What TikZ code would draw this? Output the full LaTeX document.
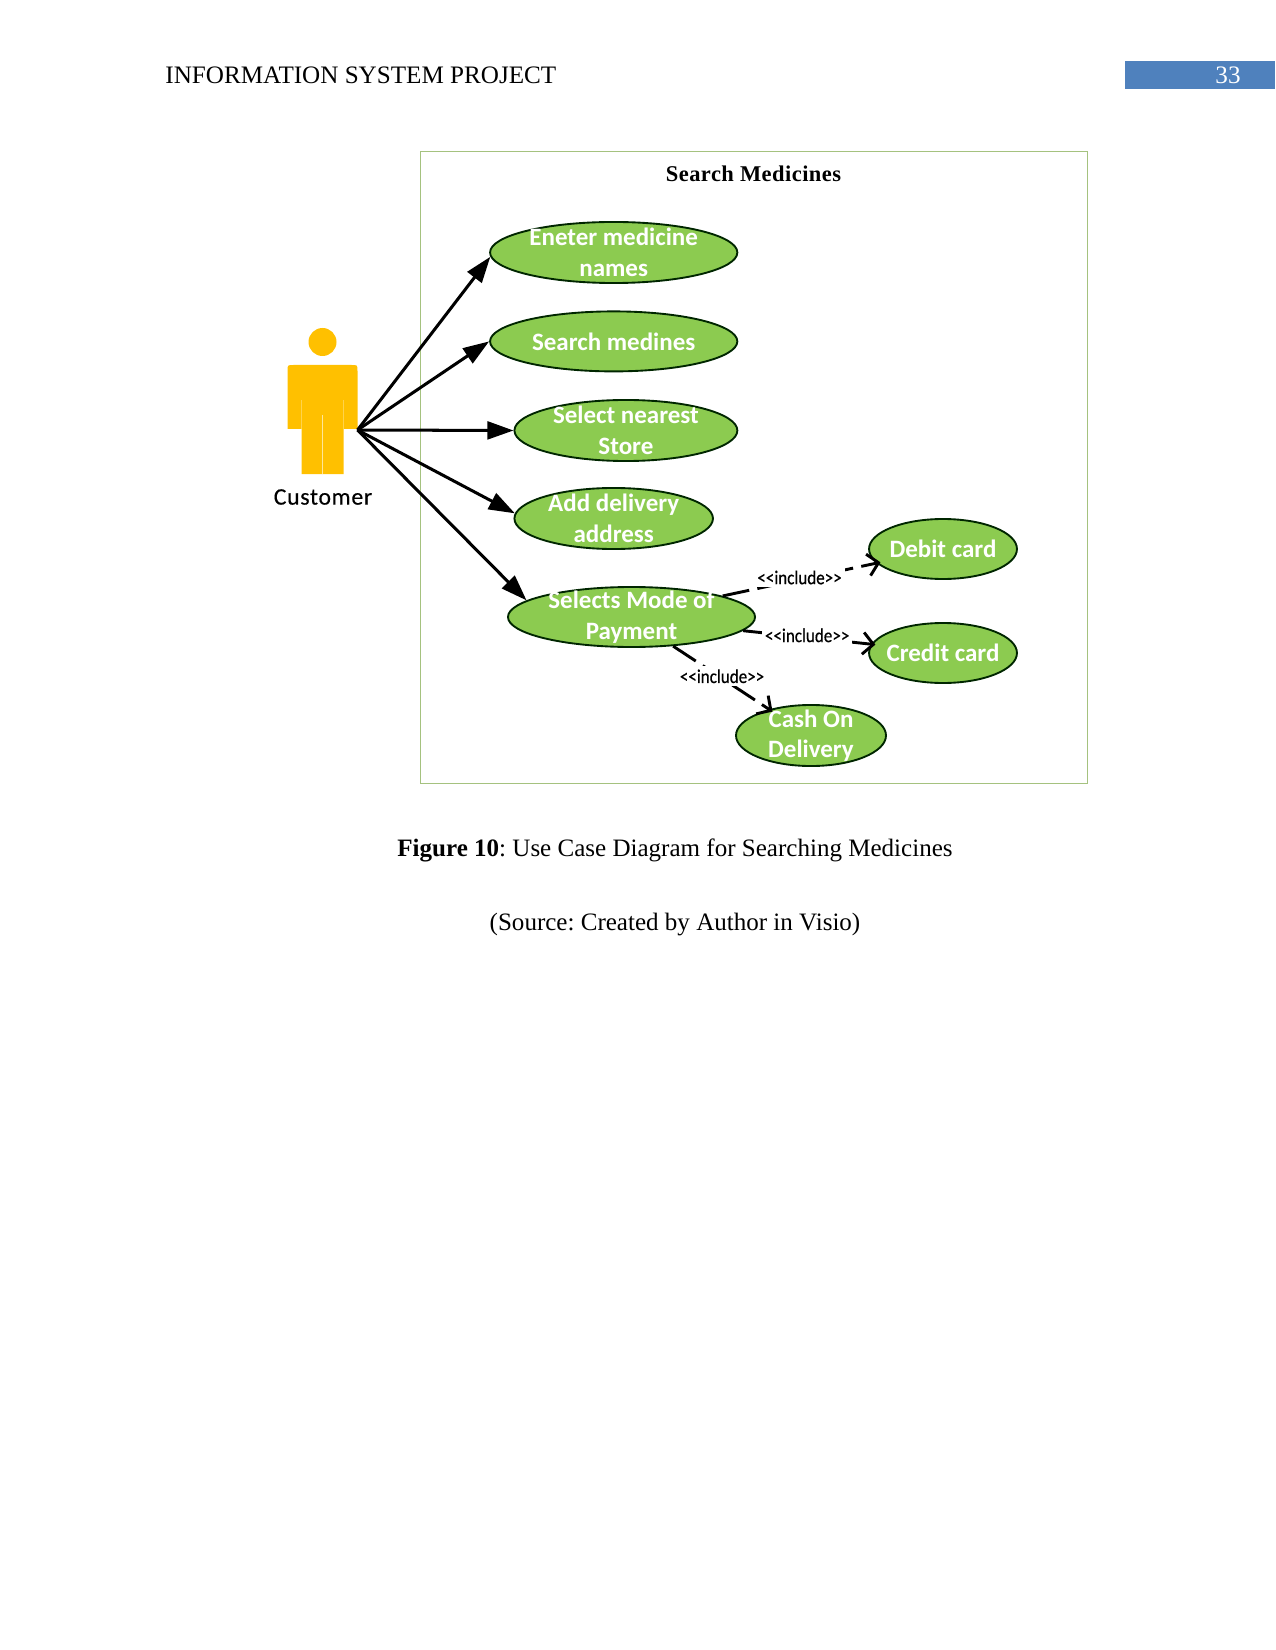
\documentclass[tikz,border=0pt]{standalone}
\usepackage{fontspec}
\setmainfont{Liberation Serif}
\newfontfamily\ucfont{Carlito}
\newfontfamily\actorfont[LetterSpace=3,FakeBold=0.3]{Carlito}
\newfontfamily\inclfont[FakeBold=0.5]{Carlito}
\newfontfamily\titlefont[LetterSpace=2]{Liberation Serif}
\usetikzlibrary{shapes.geometric,arrows.meta}
\definecolor{casefill}{HTML}{8CCB50}
\definecolor{frameline}{HTML}{A5C27F}
\definecolor{pageblue}{HTML}{4F81BD}
\definecolor{actorgold}{HTML}{FFC000}
\tikzset{
  usecase/.style={ellipse,draw=black!85!green,line width=0.9pt,fill=casefill,text=white,
    inner sep=-14pt,align=center,font=\ucfont\bfseries\fontsize{12}{14.6}\selectfont},
  assoc/.style={line width=1.45pt,-{Triangle[length=12.5pt,width=8.5pt]}},
  incl/.style={line width=1.4pt,dash pattern=on 13pt off 4pt,shorten >=-2pt,
    -{Straight Barb[length=5pt,width=10.5pt,line width=1.4pt]}},
  incllabel/.style={fill=white,inner sep=1.5pt,yshift=1pt,font=\inclfont\fontsize{9.4}{11}\selectfont},
  pagetext/.style={inner sep=0pt,font=\fontsize{12.06}{14}\selectfont},
  captext/.style={inner sep=0pt,font=\fontsize{12.02}{14}\selectfont}
}
\newcommand{\inclword}{\scalebox{0.87}[1]{{<}{<}include{>}{>}}}
\frenchspacing
\begin{document}
\begin{tikzpicture}[x=0.48pt,y=-0.48pt]
\useasboundingbox (0,0) rectangle (1275,1650);

% running head
\node[pagetext,anchor=base west] (head) at (165,84) {INFORMATION SYSTEM PROJECT};
\fill[pageblue] (1125,61) rectangle (1275,89);
\node[pagetext,text=white,anchor=base] (pageno) at (1228,84) {33};

% system boundary
\draw[frameline,line width=0.7pt] (420.5,151.5) rectangle (1087.5,783.7);
\node[inner sep=0pt,font=\titlefont\bfseries\fontsize{10.8}{12}\selectfont] (title) at (753.5,173.5) {Search Medicines};

% actor figure
\fill[actorgold] (322.5,342) circle (14);
\fill[actorgold] (287.5,429) -- (287.5,371) .. controls (287.5,365) and (287.5,365) .. (293.5,365)
  -- (351.5,365) .. controls (357.5,365) and (357.5,365) .. (357.5,371) -- (357.5,429) -- (343.5,429)
  -- (343.5,474) -- (301.5,474) -- (301.5,429) -- cycle;
\draw[white!60!actorgold,line width=0.4pt] (322.5,415) -- (322.5,474);
\draw[white!30!actorgold,line width=0.3pt] (301.5,400) -- (301.5,429) (343.5,400) -- (343.5,429);
\coordinate (hand) at (357.5,430);
\node[inner sep=0pt,font=\actorfont\fontsize{11.4}{13}\selectfont] (customer) at (323,497) {Customer};

% use cases
\node[usecase,minimum width=118.7pt,minimum height=29.3pt] (enter) at (613.7,252.5) {Eneter medicine\\names};
\node[usecase,minimum width=118.7pt,minimum height=28.8pt] (search) at (613.7,341.4) {Search medines};
\node[usecase,minimum width=107pt,minimum height=29.3pt] (store) at (625.9,430.5) {Select nearest\\Store};
\node[usecase,minimum width=95.3pt,minimum height=29.3pt] (address) at (613.7,518.5) {Add delivery\\address};
\node[usecase,minimum width=118.6pt,minimum height=28.8pt] (payment) at (631.5,617) {Selects Mode of\\Payment};
\node[usecase,minimum width=71pt,minimum height=28.8pt] (debit) at (943,549) {Debit card};
\node[usecase,minimum width=71pt,minimum height=28.8pt] (credit) at (943,653) {Credit card};
\node[usecase,minimum width=72pt,minimum height=29.3pt] (cash) at (811,735.5) {Cash On\\Delivery};

% actor associations
\draw[assoc] (hand) -- (enter.182);
\draw[assoc] (hand) -- (search.west);
\draw[assoc] (hand) -- (store.west);
\draw[assoc] (hand) -- (address.177);
\draw[assoc] (hand) -- (payment.171);

% include relations
\draw[incl] (payment.13) -- (debit.192) node[pos=0.5,incllabel] (l1) {\inclword};
\draw[incl] (payment.-7) -- (credit.173) node[pos=0.5,incllabel] (l2) {\inclword};
\draw[incl] (payment.-35) -- (cash.148) node[pos=0.51,incllabel] (l3) {\inclword};

% caption
\node[captext,anchor=base] (caption) at (675,856) {\textbf{Figure 10}: Use Case Diagram for Searching Medicines};
\node[captext,anchor=base] (source) at (675,930) {(Source: Created by Author in Visio)};
\end{tikzpicture}
\end{document}
